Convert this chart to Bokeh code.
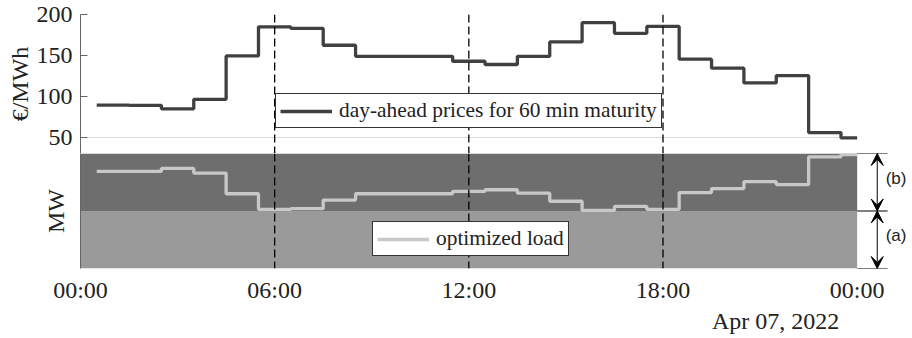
from bokeh.plotting import figure
from bokeh.layouts import column
from bokeh.models import (Range1d, FixedTicker, LinearAxis, Span, Legend, LegendItem,
                          Arrow, VeeHead, Label, ColumnDataSource)
from bokeh.embed import file_html
from bokeh.resources import INLINE

# ---------------- data ----------------
# start hour of each hourly product (step segments), day ends at 24 h
seg_start = [0.5, 1.5, 2.5, 3.5, 4.5, 5.5, 6.5, 7.5, 8.5, 9.5, 10.5, 11.5,
             12.5, 13.5, 14.5, 15.5, 16.5, 17.5, 18.5, 19.5, 20.5, 21.5, 22.5, 23.5]
day_start = 0
day_end = 24

price = [89.6, 89.2, 85.0, 96.5, 149.5, 185.0, 183.0, 162.5, 149.0, 149.0, 149.0, 143.0,
         139.0, 149.0, 166.5, 190.0, 177.0, 185.5, 145.5, 134.5, 116.5, 125.5, 56.0, 49.5]

# optimized load, in units of the band (a) width: (a) = 0..1, (b) = 1..2
load = [1.69, 1.69, 1.74, 1.66, 1.30, 1.03, 1.04, 1.19, 1.30, 1.30, 1.30, 1.34,
        1.37, 1.31, 1.17, 1.01, 1.08, 1.03, 1.32, 1.39, 1.51, 1.46, 1.94, 1.98]

band_names = ["(a)", "(b)"]
band_bottom = [0, 1]
band_top = [1, 2]

price_ticks = [50, 100, 150, 200]
time_ticks = [0, 6, 12, 18, 24]
time_labels = ["00:00", "06:00", "12:00", "18:00", "00:00"]
date_label = "Apr 07, 2022"
date_pos = 21.48
marker_hours = [6, 12, 18]

SERIF = "Liberation Serif"
SANS = "Liberation Sans"
AXIS_GRAY = "#666666"
TXT = "#222222"

step_x = seg_start + [day_end]
price_y = price + [price[-1]]
load_y = load + [load[-1]]

x_range = Range1d(0, 25.71)

# ---------------- top panel: prices ----------------
p1 = figure(width=912, height=153, output_backend="svg", toolbar_location=None,
            x_range=x_range, y_range=Range1d(30.49, 200), x_axis_location=None,
            min_border_left=80, min_border_right=0, min_border_top=14, min_border_bottom=0,
            outline_line_color=None, background_fill_color="white")
p1.grid.visible = False
ya = p1.yaxis[0]
ya.ticker = FixedTicker(ticks=price_ticks)
ya.axis_line_color = AXIS_GRAY
ya.major_tick_line_color = AXIS_GRAY
ya.major_tick_in = 7
ya.major_tick_out = 0
ya.minor_tick_line_color = None
ya.major_label_text_font = SERIF
ya.major_label_text_font_size = "24px"
ya.major_label_text_color = TXT
ya.major_label_standoff = 8
ya.axis_label = "€/MWh"
ya.axis_label_text_font = SERIF
ya.axis_label_text_font_size = "24px"
ya.axis_label_text_font_style = "normal"
ya.axis_label_text_color = TXT
ya.axis_label_standoff = 1

p1.segment(x0=[day_start], x1=[day_end], y0=[price_ticks[0]], y1=[price_ticks[0]],
           line_color="#dcdcdc", line_width=1)

for h in marker_hours:
    p1.add_layout(Span(location=h, dimension="height", line_color="black",
                       line_dash="8 4", line_width=1.3))

r_price = p1.step(step_x, price_y, mode="after", line_color="#404040", line_width=3.3)

leg1 = Legend(items=[LegendItem(label="day-ahead prices for 60 min maturity", renderers=[r_price])],
              location=(195, 25), orientation="vertical",
              label_text_font=SERIF, label_text_font_size="21.4px", label_text_color=TXT,
              glyph_width=52, glyph_height=20, label_height=20, label_standoff=7,
              padding=4, margin=0, spacing=0,
              border_line_color="#333333", border_line_width=1, border_line_alpha=1,
              background_fill_color="white", background_fill_alpha=1)
p1.add_layout(leg1)

# ---------------- bottom panel: load ----------------
p2 = figure(width=912, height=185, output_backend="svg", toolbar_location=None,
            x_range=x_range, y_range=Range1d(band_bottom[0], band_top[-1]),
            min_border_left=80, min_border_right=0, min_border_top=0, min_border_bottom=70,
            outline_line_color=None, background_fill_color="white")
p2.grid.visible = False

ya2 = p2.yaxis[0]
ya2.ticker = FixedTicker(ticks=[])
ya2.axis_line_color = AXIS_GRAY
ya2.major_tick_line_color = None
ya2.minor_tick_line_color = None
ya2.major_tick_out = 0
ya2.major_tick_in = 0
ya2.axis_label = "MW"
ya2.axis_label_text_font = SERIF
ya2.axis_label_text_font_size = "24px"
ya2.axis_label_text_font_style = "normal"
ya2.axis_label_text_color = TXT
ya2.axis_label_standoff = 12

xa = p2.xaxis[0]
xa.ticker = FixedTicker(ticks=time_ticks)
xa.major_label_overrides = {t: l for t, l in zip(time_ticks, time_labels)}
xa.axis_line_color = None
xa.major_tick_line_color = None
xa.minor_tick_line_color = None
xa.major_tick_out = 0
xa.major_tick_in = 0
xa.major_label_text_font = SERIF
xa.major_label_text_font_size = "24px"
xa.major_label_text_color = TXT
xa.major_label_standoff = 8

xa2 = LinearAxis(ticker=FixedTicker(ticks=[date_pos]),
                 major_label_overrides={date_pos: date_label},
                 axis_line_color=None, major_tick_line_color=None, minor_tick_line_color=None,
                 major_tick_out=0, major_tick_in=0,
                 major_label_text_font=SERIF, major_label_text_font_size="24px",
                 major_label_text_color=TXT, major_label_standoff=2)
p2.add_layout(xa2, "below")

bands = ColumnDataSource(dict(left=[day_start, day_start], right=[day_end, day_end],
                              bottom=band_bottom, top=band_top,
                              color=["#9a9a9a", "#6e6e6e"]))
p2.quad(left="left", right="right", bottom="bottom", top="top", color="color",
        line_color=None, source=bands)

for h in marker_hours:
    p2.add_layout(Span(location=h, dimension="height", line_color="black",
                       line_dash="8 4", line_width=1.3))

r_load = p2.step(step_x, load_y, mode="after", line_color="#c8c8c8", line_width=3.3)

leg2 = Legend(items=[LegendItem(label="optimized load", renderers=[r_load])],
              location=(292, 12), orientation="vertical",
              label_text_font=SERIF, label_text_font_size="21.4px", label_text_color=TXT,
              glyph_width=52, glyph_height=20, label_height=20, label_standoff=7,
              padding=4, margin=0, spacing=0,
              border_line_color="#333333", border_line_width=1, border_line_alpha=1,
              background_fill_color="white", background_fill_alpha=1)
p2.add_layout(leg2)

# right-hand band annotations
bounds = [band_bottom[0]] + band_top
p2.segment(x0=[day_end] * len(bounds), x1=[day_end + 0.94] * len(bounds),
           y0=bounds, y1=bounds, line_color="black", line_width=1)
ax = day_end + 0.62
for name, lo, hi in zip(band_names, band_bottom, band_top):
    p2.add_layout(Arrow(x_start=ax, y_start=lo, x_end=ax, y_end=hi, line_width=1,
                        line_color="black",
                        start=VeeHead(size=12, fill_color="black", line_color="black", line_width=1),
                        end=VeeHead(size=12, fill_color="black", line_color="black", line_width=1)))
    p2.add_layout(Label(x=day_end + 0.88, y=(lo + hi) / 2, text=name, text_font=SANS,
                        text_font_size="17px", text_color=TXT, text_baseline="middle",
                        y_offset=4))

layout = column(p1, p2, spacing=0)
open("out.html", "w").write(file_html(layout, INLINE))
